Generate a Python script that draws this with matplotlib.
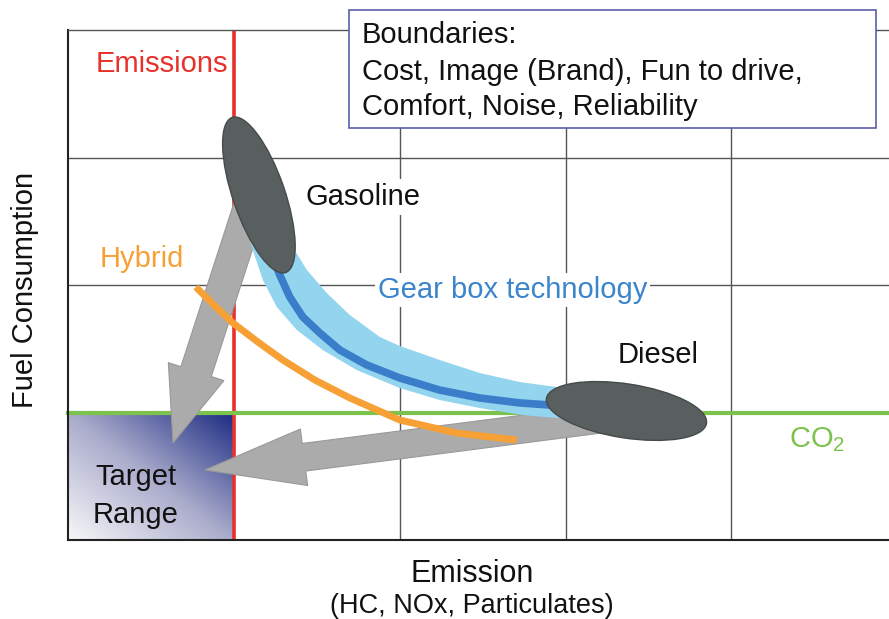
import matplotlib.pyplot as plt
import numpy as np
from matplotlib.colors import LinearSegmentedColormap
from matplotlib.patches import Ellipse, FancyArrowPatch, Rectangle
from matplotlib.transforms import ScaledTranslation

plt.rcParams["font.family"] = ["Liberation Sans", "DejaVu Sans"]
plt.rcParams["mathtext.fontset"] = "custom"
plt.rcParams["mathtext.rm"] = "Liberation Sans"
plt.rcParams["mathtext.it"] = "Liberation Sans"

# diagram in grid units (one grid cell = 1 on both axes)
X_MAX = 4.95
Y_MAX = 4.0
EMISSION_LIMIT = 1.0
CO2_LIMIT = 1.0
GRID_X = [2, 3, 4]
GRID_Y = [2, 3]

# gear box technology: centre line and band edges (gasoline -> diesel)
gear_x = [1.205, 1.277, 1.337, 1.416, 1.518, 1.639, 1.801, 2.000, 2.241, 2.482, 2.723, 2.904, 3.145]
gear_y = [2.314, 2.078, 1.906, 1.749, 1.624, 1.490, 1.373, 1.271, 1.176, 1.114, 1.075, 1.059, 1.043]
band_upper_x = [1.307, 1.355, 1.440, 1.560, 1.699, 1.880, 2.000, 2.241, 2.482, 2.723, 2.946, 3.175]
band_upper_y = [2.471, 2.298, 2.118, 1.937, 1.765, 1.592, 1.522, 1.412, 1.310, 1.239, 1.200, 1.176]
band_lower_x = [1.066, 1.114, 1.175, 1.259, 1.380, 1.536, 1.741, 2.000, 2.241, 2.482, 2.741, 2.946, 3.175]
band_lower_y = [2.471, 2.275, 2.039, 1.827, 1.647, 1.490, 1.333, 1.192, 1.098, 1.035, 0.980, 0.957, 0.933]

# hybrid curve
hybrid_x = [0.771, 0.886, 0.994, 1.145, 1.295, 1.488, 1.699, 2.000, 2.343, 2.705]
hybrid_y = [1.984, 1.835, 1.702, 1.553, 1.412, 1.255, 1.114, 0.941, 0.839, 0.784]

# engine clouds
engine_x = [1.151, 3.367]
engine_y = [2.706, 1.012]

# development arrows towards target range
arrow_from_x = [1.127, 3.265]
arrow_from_y = [2.745, 0.957]
arrow_to_x = [0.633, 0.825]
arrow_to_y = [0.761, 0.549]

boundaries = ["Boundaries:",
              "Cost, Image (Brand), Fun to drive,",
              "Comfort, Noise, Reliability"]

fig = plt.figure(figsize=(8.89, 6.19), dpi=100)
ax = fig.add_axes([68 / 889, 79 / 619, 821 / 889, 510 / 619])
ax.set_xlim(0, X_MAX)
ax.set_ylim(0, Y_MAX)
ax.set_xticks(GRID_X)
ax.set_yticks(GRID_Y)
ax.tick_params(length=0, labelbottom=False, labelleft=False)
ax.grid(True, color="#555555", linewidth=1.0, zorder=0)
ax.set_axisbelow(True)
ax.spines["right"].set_visible(False)
ax.spines["top"].set_color("#555555")
ax.spines["top"].set_linewidth(1.0)
for s in ["left", "bottom"]:
    ax.spines[s].set_color("#222222")
    ax.spines[s].set_linewidth(1.5)

# target range, shaded square
g = np.linspace(0, 1, 200)
gx, gy = np.meshgrid(g, g)
cmap = LinearSegmentedColormap.from_list("target", ["#f7f7f9", "#a9abcb", "#1c2b82"])
ax.imshow((gx + gy) / 2, cmap=cmap, origin="lower", extent=[0, EMISSION_LIMIT, 0, CO2_LIMIT],
          aspect="auto", zorder=1, vmin=0, vmax=1)

# limits
ax.plot([EMISSION_LIMIT, EMISSION_LIMIT], [0, Y_MAX], color="#e8312b", lw=2.6, zorder=2)
ax.plot([0, X_MAX], [CO2_LIMIT, CO2_LIMIT], color="#7cc24c", lw=3, zorder=2, clip_on=False)

# arrows
heads = [(54, 42, 23), (72, 41, 20)]
for i in range(2):
    hl, hw, tw = heads[i]
    ax.add_patch(FancyArrowPatch((arrow_from_x[i], arrow_from_y[i]), (arrow_to_x[i], arrow_to_y[i]),
                                 arrowstyle=f"simple,head_length={hl},head_width={hw},tail_width={tw}",
                                 shrinkA=0, shrinkB=0, facecolor="#ababab", edgecolor="#999999",
                                 lw=0.8, zorder=3))

# gear box band and hybrid curve
ax.fill(band_upper_x + band_lower_x[::-1], band_upper_y + band_lower_y[::-1],
        color="#93d4ee", lw=0, zorder=4)
ax.plot(gear_x, gear_y, color="#3a7dc9", lw=5.5, solid_capstyle="butt", solid_joinstyle="round", zorder=4.5)
ax.plot(hybrid_x, hybrid_y, color="#f7a035", lw=5, solid_capstyle="butt", zorder=5)

# engine clouds
shapes = [(1.64, 0.52, 109), (1.62, 0.54, -8.8)]
for i in range(2):
    w, h, ang = shapes[i]
    tr = fig.dpi_scale_trans + ScaledTranslation(engine_x[i], engine_y[i], ax.transData)
    ax.add_patch(Ellipse((0, 0), w, h, angle=ang, transform=tr,
                         facecolor="#595e5e", edgecolor="#454a4a", lw=1, zorder=6))

# boundaries box
ax.add_patch(Rectangle((1.693, 3.23), 3.18, 0.93, facecolor="white", edgecolor="#5b5fa8",
                       lw=1.2, zorder=7, clip_on=False))
for k, line in enumerate(boundaries):
    ax.text(1.771, [3.898, 3.608, 3.333][k], line, fontsize=21, color="#111111",
            va="baseline", ha="left", zorder=8, clip_on=False)

fs = 21
ax.text(0.964, 3.671, "Emissions", color="#e8312b", fontsize=fs, ha="right", va="baseline", zorder=8)
ax.text(1.434, 2.627, "Gasoline", color="#111111", fontsize=fs, ha="left", va="baseline", zorder=8,
        bbox=dict(facecolor="white", edgecolor="none", pad=3))
ax.text(0.193, 2.141, "Hybrid", color="#f7a035", fontsize=fs, ha="left", va="baseline", zorder=8)
ax.text(1.867, 1.898, "Gear box technology", color="#3a85cc", fontsize=fs, ha="left", va="baseline",
        zorder=8, bbox=dict(facecolor="white", edgecolor="none", pad=2))
ax.text(3.313, 1.388, "Diesel", color="#111111", fontsize=fs, ha="left", va="baseline", zorder=8)
ax.text(4.349, 0.729, "CO$_2$", color="#7cc24c", fontsize=fs, ha="left", va="baseline", zorder=8)
ax.text(0.41, 0.431, "Target", color="#111111", fontsize=fs, ha="center", va="baseline", zorder=8)
ax.text(0.41, 0.133, "Range", color="#111111", fontsize=fs, ha="center", va="baseline", zorder=8)

ax.text(-0.259, 1.961, "Fuel Consumption", fontsize=fs, rotation=90, ha="center", va="center",
        color="#111111", clip_on=False)
ax.text(2.434, -0.329, "Emission", fontsize=22, ha="center", va="baseline", color="#111111", clip_on=False)
ax.text(2.434, -0.573, "(HC, NOx, Particulates)", fontsize=19.5, ha="center", va="baseline",
        color="#111111", clip_on=False)

fig.savefig("out.png", dpi=100)
